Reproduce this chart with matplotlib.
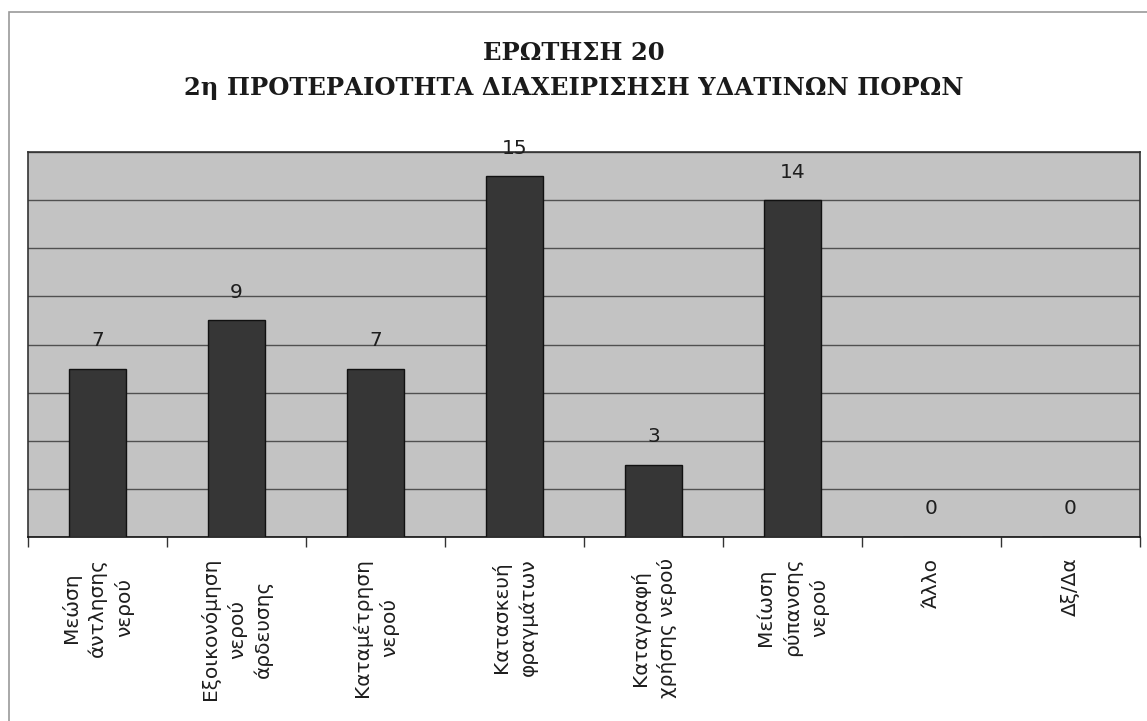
import numpy as np
import matplotlib
matplotlib.use("Agg")
import matplotlib.pyplot as plt
from matplotlib.patches import Rectangle

# data
categories = ["Μεώση\nάντλησης\nνερού", "Εξοικονόμηση\nνερού\nάρδευσης",
              "Καταμέτρηση\nνερού", "Κατασκευή\nφραγμάτων",
              "Καταγραφή\nχρήσης νερού", "Μείωση\nρύπανσης\nνερού",
              "Άλλο", "Δξ/Δα"]
counts = [7, 9, 7, 15, 3, 14, 0, 0]
title_lines = ["ΕΡΩΤΗΣΗ 20", "2η ΠΡΟΤΕΡΑΙΟΤΗΤΑ ΔΙΑΧΕΙΡΙΣΗΣΗ ΥΔΑΤΙΝΩΝ ΠΟΡΩΝ"]

plt.rcParams['font.family'] = ['DejaVu Sans']

fig = plt.figure(figsize=(11.47, 7.21), dpi=100)
W, H = 1147, 721

# scanned page frame (left and top edge)
fig.add_artist(Rectangle((9 / W, -0.1), 1.2, 1 - 12 / H + 0.1,
                         transform=fig.transFigure, fill=False,
                         edgecolor="#9a9a9a", linewidth=1.2))

ax = fig.add_axes([28 / W, 1 - 537 / H, 1112 / W, 385 / H])
ax.set_facecolor("#c3c3c3")

x = np.arange(len(categories))
ax.bar(x, counts, width=0.41, color="#363636", edgecolor="#111111",
       linewidth=1.0, zorder=3)

for xi, v in zip(x, counts):
    ax.annotate(str(v), (xi, v), xytext=(0, 28), textcoords="offset pixels",
                ha="center", va="center", fontsize=14.5, color="#1e1e1e")

ax.set_xlim(-0.5, len(categories) - 0.5)
ax.set_ylim(0, 16)
ax.set_yticks(np.arange(0, 17, 2))
ax.set_yticklabels([])
ax.tick_params(axis="y", length=0)
ax.yaxis.grid(True, color="#505050", linewidth=1.0)
ax.set_axisbelow(True)

# ticks at category boundaries, labels at centres
ax.set_xticks(np.arange(-0.5, len(categories), 1.0))
ax.set_xticklabels([])
ax.tick_params(axis="x", which="major", length=7, width=1.0, color="#333333")
ax.set_xticks(x, minor=True)
ax.set_xticklabels(categories, minor=True, rotation=90, fontsize=14.5,
                   va="top", ha="center", multialignment="center",
                   linespacing=1.45, color="#1e1e1e")
ax.tick_params(axis="x", which="minor", length=0, pad=15)

for s in ax.spines.values():
    s.set_color("#333333")
    s.set_linewidth(1.2)
ax.spines["bottom"].set_color("#111111")

fig.text(0.5, 1 - 53 / H, title_lines[0], ha="center", va="center",
         fontsize=17.5, fontweight="bold", family="DejaVu Serif",
         color="#1a1a1a")
fig.text(0.5, 1 - 88 / H, title_lines[1], ha="center", va="center",
         fontsize=17.5, fontweight="bold", family="DejaVu Serif",
         color="#1a1a1a")

fig.savefig("out.png", dpi=100, facecolor="white")
